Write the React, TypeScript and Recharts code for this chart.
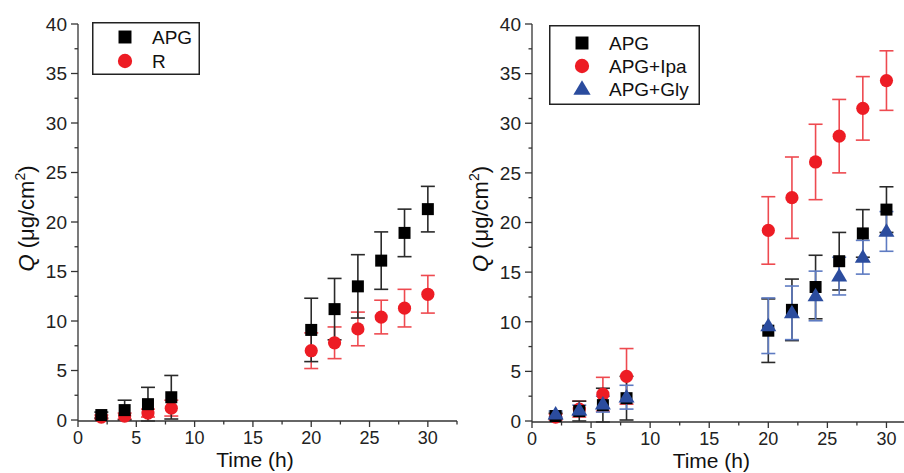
import React from 'react';
import { ScatterChart, Scatter, XAxis, YAxis, ErrorBar, Legend } from 'recharts';

// sampling times (h)
const times = [2, 4, 6, 8, 20, 22, 24, 26, 28, 30];

// cumulative amount Q (ug/cm2) and SD
const apg = [0.5, 1.0, 1.6, 2.3, 9.1, 11.2, 13.5, 16.1, 18.9, 21.3];
const apgErr = [0.3, 1.0, 1.7, 2.2, 3.2, 3.1, 3.2, 2.9, 2.4, 2.3];
const rVals = [0.3, 0.4, 0.7, 1.2, 7.0, 7.8, 9.2, 10.4, 11.3, 12.7];
const rErr = [0.2, 0.3, 0.4, 0.8, 1.8, 1.6, 1.7, 1.7, 1.9, 1.9];
const ipa = [0.4, 1.2, 2.7, 4.5, 19.2, 22.5, 26.1, 28.7, 31.5, 34.3];
const ipaErr = [0.3, 0.8, 1.7, 2.8, 3.4, 4.1, 3.8, 3.7, 3.2, 3.0];
const gly = [0.7, 1.1, 1.7, 2.4, 9.6, 10.9, 12.6, 14.6, 16.5, 19.1];
const glyErr = [0.3, 0.5, 0.8, 1.2, 2.8, 2.7, 2.5, 1.9, 1.7, 2.0];

const xTicks = [0, 2.5, 5, 7.5, 10, 12.5, 15, 17.5, 20, 22.5, 25, 27.5, 30, 32.5];
const yTicks = [0, 2.5, 5, 7.5, 10, 12.5, 15, 17.5, 20, 22.5, 25, 27.5, 30, 32.5, 35, 37.5, 40];

const AXIS = '#333';
const FONT = '"Liberation Sans", Arial, sans-serif';

type Kind = 'square' | 'circle' | 'triangle';

interface Series {
  name: string;
  kind: Kind;
  color: string;
  barColor: string;
  values: number[];
  errors: number[];
}

const toData = (values: number[], errors: number[]) =>
  times.map((t, i) => ({ x: t, y: values[i], err: errors[i] }));

const Marker = ({ kind, color, cx, cy, s = 1 }: { kind: Kind; color: string; cx: number; cy: number; s?: number }) => {
  if (kind === 'square') {
    const h = 6 * s;
    return <rect x={cx - h} y={cy - h} width={2 * h} height={2 * h} fill={color} />;
  }
  if (kind === 'circle') {
    return <circle cx={cx} cy={cy} r={6.6 * s} fill={color} />;
  }
  const w = 8 * s;
  const h = 13.5 * s;
  return (
    <polygon
      points={`${cx},${cy - h * 0.6} ${cx + w},${cy + h * 0.4} ${cx - w},${cy + h * 0.4}`}
      fill={color}
    />
  );
};

const XTick = (props: any) => {
  const { x, y, payload } = props;
  const major = payload.value % 5 === 0;
  return (
    <g>
      <line x1={x} y1={y} x2={x} y2={y + (major ? 6 : 3.5)} stroke={AXIS} strokeWidth={1.3} />
      {major && (
        <text x={x} y={y + 23} textAnchor="middle" fontSize={18} fontFamily={FONT} fill="#222">
          {payload.value}
        </text>
      )}
    </g>
  );
};

const YTick = (props: any) => {
  const { x, y, payload } = props;
  const major = payload.value % 5 === 0;
  return (
    <g>
      <line x1={x - (major ? 7 : 3.5)} y1={y} x2={x} y2={y} stroke={AXIS} strokeWidth={1.3} />
      {major && (
        <text x={x - 11} y={y} dy="0.36em" textAnchor="end" fontSize={19} fontFamily={FONT} fill="#222">
          {payload.value}
        </text>
      )}
    </g>
  );
};

const XLabel = (props: any) => {
  const { x, y, width } = props.viewBox;
  return (
    <text x={x + width * 0.467} y={y + 46} textAnchor="middle" fontSize={21} fontFamily={FONT} fill="#111">
      Time (h)
    </text>
  );
};

const YLabel = (props: any) => {
  const { x, y, width, height } = props.viewBox;
  const lx = x + width - 44;
  const ly = y + height / 2 - 4;
  return (
    <text
      x={lx}
      y={ly}
      transform={`rotate(-90, ${lx}, ${ly})`}
      textAnchor="middle"
      fontSize={22}
      fontFamily={FONT}
      fill="#111"
    >
      <tspan fontStyle="italic">Q</tspan>
      <tspan> (μg/cm</tspan>
      <tspan fontSize={14} dy={-9}>2</tspan>
      <tspan dy={9}>)</tspan>
    </text>
  );
};

const LegendBox = ({ items, w, h }: { items: Series[]; w: number; h: number }) => (
  <svg width={w} height={h} style={{ display: 'block' }}>
    <rect x={0.75} y={0.75} width={w - 1.5} height={h - 1.5} fill="#fff" stroke="#222" strokeWidth={1.5} />
    {items.map((it, i) => {
      const cy = (items.length === 2 ? 15 : 18) + i * (items.length === 2 ? 24 : 23);
      return (
        <g key={it.name}>
          <Marker kind={it.kind} color={it.color} cx={33} cy={cy} s={1.08} />
          <text x={60} y={cy} dy="0.36em" fontSize={19} fontFamily={FONT} fill="#111">
            {it.name}
          </text>
        </g>
      );
    })}
  </svg>
);

interface PanelProps {
  series: Series[];
  legendOrder: Series[];
  width: number;
  yAxisWidth: number;
  xAxisHeight: number;
  legendPos: { left: number; top: number; w: number; h: number };
}

const Panel = ({ series, legendOrder, width, yAxisWidth, xAxisHeight, legendPos }: PanelProps) => (
  <ScatterChart width={width} height={473} margin={{ top: 24, right: 3, bottom: 0, left: 0 }}>
    <XAxis
      type="number"
      dataKey="x"
      domain={[0, 32.5]}
      ticks={xTicks}
      interval={0}
      height={xAxisHeight}
      tickSize={0}
      tickMargin={0}
      tickLine={false}
      tick={<XTick />}
      axisLine={{ stroke: AXIS, strokeWidth: 1.3 }}
      label={<XLabel />}
    />
    <YAxis
      type="number"
      dataKey="y"
      domain={[0, 40]}
      ticks={yTicks}
      interval={0}
      width={yAxisWidth}
      tickSize={0}
      tickMargin={0}
      tickLine={false}
      tick={<YTick />}
      axisLine={{ stroke: AXIS, strokeWidth: 1.3 }}
      label={<YLabel />}
    />
    <Legend
      layout="vertical"
      align="center"
      verticalAlign="middle"
      wrapperStyle={{ left: legendPos.left, top: legendPos.top, width: legendPos.w, height: legendPos.h }}
      content={() => <LegendBox items={legendOrder} w={legendPos.w} h={legendPos.h} />}
    />
    {series.map((s) => (
      <Scatter
        key={s.name}
        name={s.name}
        data={toData(s.values, s.errors)}
        fill={s.color}
        isAnimationActive={false}
        shape={(p: any) => <Marker kind={s.kind} color={s.color} cx={p.cx} cy={p.cy} />}
      >
        <ErrorBar
          dataKey="err"
          direction="y"
          width={7}
          stroke={s.barColor}
          strokeWidth={1.6}
          isAnimationActive={false}
        />
      </Scatter>
    ))}
  </ScatterChart>
);

const APG: Series = { name: 'APG', kind: 'square', color: '#000000', barColor: '#2a2a2a', values: apg, errors: apgErr };
const R: Series = { name: 'R', kind: 'circle', color: '#ED1C24', barColor: '#EE4A50', values: rVals, errors: rErr };
const IPA: Series = { name: 'APG+Ipa', kind: 'circle', color: '#ED1C24', barColor: '#EE4A50', values: ipa, errors: ipaErr };
const GLY: Series = { name: 'APG+Gly', kind: 'triangle', color: '#2B4C9E', barColor: '#5E7BC2', values: gly, errors: glyErr };

export default function App() {
  return (
    <div style={{ position: 'absolute', left: 0, top: 0, width: 904, height: 473, overflow: 'hidden', background: '#fff' }}>
      <div style={{ position: 'absolute', left: 0, top: 0 }}>
        <Panel
          series={[R, APG]}
          legendOrder={[APG, R]}
          width={460}
          yAxisWidth={78}
          xAxisHeight={52}
          legendPos={{ left: 92, top: 22, w: 108, h: 53 }}
        />
      </div>
      <div style={{ position: 'absolute', left: 460, top: 0 }}>
        <Panel
          series={[IPA, APG, GLY]}
          legendOrder={[APG, IPA, GLY]}
          width={459}
          yAxisWidth={72}
          xAxisHeight={51}
          legendPos={{ left: 89, top: 25, w: 151, h: 80 }}
        />
      </div>
    </div>
  );
}
